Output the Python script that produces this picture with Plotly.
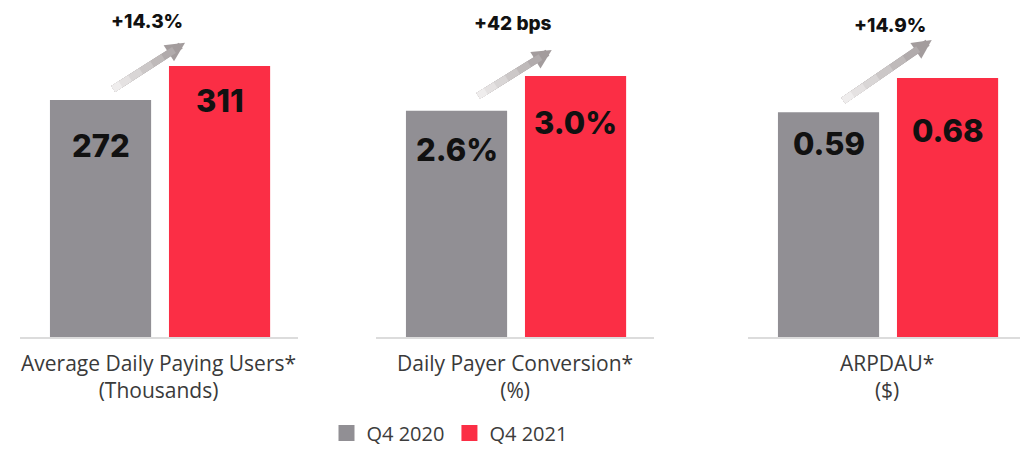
import plotly.graph_objects as go

# ---------------- data ----------------
periods = ["Q4 2020", "Q4 2021"]
metric_titles = [
    "Average Daily Paying Users*<br>(Thousands)",
    "Daily Payer Conversion*<br>(%)",
    "ARPDAU*<br>($)",
]
dpu_values = [272, 311]
conversion_values = [2.6, 3.0]
arpdau_values = [0.59, 0.68]
value_labels = [["272", "311"], ["2.6%", "3.0%"], ["0.59", "0.68"]]
change_labels = ["+14.3%", "+42 bps", "+14.9%"]

# ---------------- style ----------------
colors = ["#918f94", "#fb2e45"]
W, H = 1020, 442          # page body adds an 8px margin
domains_px = [(11.6, 290.1), (367.6, 646.1), (739.6, 1018.1)]
y_max = [377.6, 3.782, 0.8638]
label_drop = [[45, 34], [39, 46], [31, 52]]
# arrow geometry (x in category units, y in axis-domain fraction): tail, tip
arrows = [((0.094, 0.751), (0.71, 0.894)),
          ((0.17, 0.730), (0.80, 0.872)),
          ((0.111, 0.715), (0.867, 0.903))]
change_pos = [(0.39, 0.960), (0.475, 0.954), (0.517, 0.948)]

series = [dpu_values, conversion_values, arpdau_values]

fig = go.Figure()
layout = dict(
    width=W, height=H,
    margin=dict(l=0, r=0, t=0, b=113, autoexpand=False),
    paper_bgcolor="white", plot_bgcolor="white",
    barmode="overlay",
    showlegend=True,
    legend=dict(orientation="h", x=(449.5 - 8) / W, xanchor="center",
                y=-(433 - 337) / 329, yanchor="middle",
                font=dict(family="Open Sans", size=20, color="#3c3c3c"),
                itemwidth=30, traceorder="normal"),
    font=dict(family="Open Sans"),
)

annotations = []
for p, vals in enumerate(series):
    xs = "x" if p == 0 else f"x{p+1}"
    ys = "y" if p == 0 else f"y{p+1}"
    for i, v in enumerate(vals):
        fig.add_trace(go.Bar(
            x=[periods[i]], y=[v], width=0.85,
            marker=dict(color=colors[i], line=dict(width=0)),
            name=periods[i], showlegend=False, xaxis=xs, yaxis=ys,
            hoverinfo="skip",
        ))
        annotations.append(dict(
            x=periods[i], y=v, xref=xs, yref=ys, text=value_labels[p][i],
            showarrow=False, yanchor="middle", yshift=-label_drop[p][i],
            font=dict(family="Inter", size=31, color="#111111", weight=800),
        ))
    d0, d1 = domains_px[p]
    layout["xaxis" if p == 0 else f"xaxis{p+1}"] = dict(
        domain=[d0 / W, d1 / W], anchor=ys, type="category",
        categoryorder="array", categoryarray=periods,
        range=[-0.68, 1.66], showline=True, linecolor="#dcdcdc", linewidth=1.5,
        showticklabels=False, ticks="", showgrid=False, zeroline=False,
        fixedrange=True,
    )
    layout["yaxis" if p == 0 else f"yaxis{p+1}"] = dict(
        domain=[0, 1], anchor=xs, range=[0, y_max[p]], visible=False,
        showgrid=False, zeroline=False, fixedrange=True,
    )
    # axis title
    annotations.append(dict(
        x=0.5, y=0, xref=f"{xs} domain", yref=f"{ys} domain",
        text=metric_titles[p], showarrow=False, yanchor="top", yshift=-10,
        font=dict(family="Open Sans", size=21, color="#3a3a3a"),
    ))
    # gradient arrow
    (tx, ty), (hx, hy) = arrows[p]
    annotations.append(dict(
        x=hx, y=hy, xref=xs, yref=f"{ys} domain",
        ax=tx, ay=ty, axref=xs, ayref=f"{ys} domain",
        text="", showarrow=True, arrowhead=2, arrowsize=0.55, arrowwidth=7,
        arrowcolor="#a39c9d", standoff=0, startstandoff=0,
    ))
    grad = [(0.85, "#b1abac"), (0.7, "#bfbaba"), (0.55, "#ccc8c8"),
            (0.4, "#d9d6d6"), (0.25, "#e5e2e2"), (0.12, "#efeded")]
    for f, c in grad:
        annotations.append(dict(
            x=tx + f * (hx - tx), y=ty + f * (hy - ty),
            xref=xs, yref=f"{ys} domain",
            ax=tx, ay=ty, axref=xs, ayref=f"{ys} domain",
            text="", showarrow=True, arrowhead=0, arrowwidth=7,
            arrowcolor=c, standoff=0, startstandoff=0,
        ))
    cx, cy = change_pos[p]
    annotations.append(dict(
        x=cx, y=cy, xref=xs, yref=f"{ys} domain", text=change_labels[p],
        showarrow=False, yanchor="middle",
        font=dict(family="Inter", size=19, color="#111111", weight=800),
    ))

# legend entries with larger square swatches
for i, name in enumerate(periods):
    fig.add_trace(go.Scatter(
        x=[None], y=[None], mode="markers", name=name,
        marker=dict(symbol="square", size=18, color=colors[i]),
        xaxis="x", yaxis="y", hoverinfo="skip", showlegend=True,
    ))

layout["annotations"] = annotations
fig.update_layout(**layout)
fig.write_html("out.html")
